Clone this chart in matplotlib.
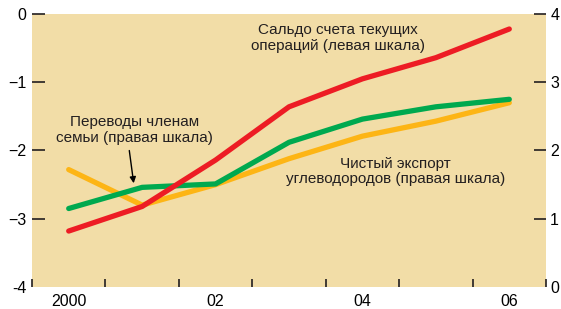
import matplotlib
matplotlib.use("Agg")
import matplotlib.pyplot as plt
import matplotlib.font_manager as fm

names = {f.name for f in fm.fontManager.ttflist}
FAM = 'Liberation Sans Narrow' if 'Liberation Sans Narrow' in names else 'Liberation Sans'
plt.rcParams['font.family'] = [FAM, 'DejaVu Sans']

years = [2000, 2001, 2002, 2003, 2004, 2005, 2006]
current_account = [-3.18, -2.82, -2.14, -1.36, -0.95, -0.64, -0.22]   # left scale
remittances = [1.15, 1.46, 1.51, 2.12, 2.46, 2.64, 2.75]             # right scale
hydrocarbons = [1.72, 1.20, 1.50, 1.88, 2.21, 2.43, 2.70]            # right scale

left_ticks = [-4, -3, -2, -1, 0]
left_labels = ['-4', '\u22123', '\u22122', '\u22121', '0']
right_ticks = [0, 1, 2, 3, 4]
right_labels = ['0', '1', '2', '3', '4']
x_labels_pos = [2000, 2002, 2004, 2006]
x_labels = ['2000', '02', '04', '06']

BG = '#F2DDA7'
RED = '#ED1C24'
GREEN = '#00A94F'
ORANGE = '#FDB515'
TXT = '#231F20'

fig = plt.figure(figsize=(5.61, 3.09), dpi=100)
ax = fig.add_axes([32/561, 22/309, 514/561, 273/309])
ax2 = ax.twinx()
ax.set_zorder(2)
ax2.set_zorder(1)
ax.patch.set_visible(False)
ax2.patch.set_visible(True)
ax2.patch.set_facecolor(BG)

ax2.plot(years, hydrocarbons, color=ORANGE, lw=3.8, solid_capstyle='round', solid_joinstyle='round')
ax2.plot(years, remittances, color=GREEN, lw=3.8, solid_capstyle='round', solid_joinstyle='round')
ax.plot(years, current_account, color=RED, lw=3.8, solid_capstyle='round', solid_joinstyle='round')

ax.set_xlim(1999.5, 2006.5)
ax.set_ylim(-4, 0)
ax2.set_ylim(0, 4)

for a in (ax, ax2):
    for s in a.spines.values():
        s.set_visible(False)

ax.set_yticks(left_ticks)
ax.set_yticklabels(left_labels)
ax.yaxis.get_major_ticks()[0].tick1line.set_visible(False)
ax.tick_params(axis='y', direction='in', length=9, width=1.2, pad=4, labelsize=11.5, color=TXT, labelcolor='black')

ax2.set_yticks(right_ticks)
ax2.set_yticklabels(right_labels)
ax2.yaxis.get_major_ticks()[0].tick2line.set_visible(False)
ax2.tick_params(axis='y', direction='in', length=9, width=1.2, pad=3, labelsize=11.5, color=TXT, labelcolor='black')

ax.set_xticks([y + 0.5 for y in range(1999, 2007)])
ax.set_xticklabels([])
ax.set_xticks(x_labels_pos, minor=True)
ax.set_xticklabels(x_labels, minor=True)
ax.tick_params(axis='x', which='major', direction='in', length=6, width=1.2, color=TXT)
ax.tick_params(axis='x', which='minor', length=0, pad=5, labelsize=11.5, labelcolor='black')

ax.text(2003.67, -0.35, 'Сальдо счета текущих\nопераций (левая шкала)', ha='center', va='center',
        fontsize=11, color=TXT, linespacing=1.15)
ax.text(2000.89, -1.70, 'Переводы членам\nсемьи (правая шкала)', ha='center', va='center',
        fontsize=11, color=TXT, linespacing=1.15)
ax.text(2004.45, -2.31, 'Чистый экспорт\nуглеводородов (правая шкала)', ha='center', va='center',
        fontsize=11, color=TXT, linespacing=1.15)
ax.annotate('', xy=(2000.89, -2.52), xytext=(2000.82, -1.96),
            arrowprops=dict(arrowstyle='-|>', color='black', lw=1.0, mutation_scale=9))

fig.savefig('out.png', dpi=100, facecolor='white')
